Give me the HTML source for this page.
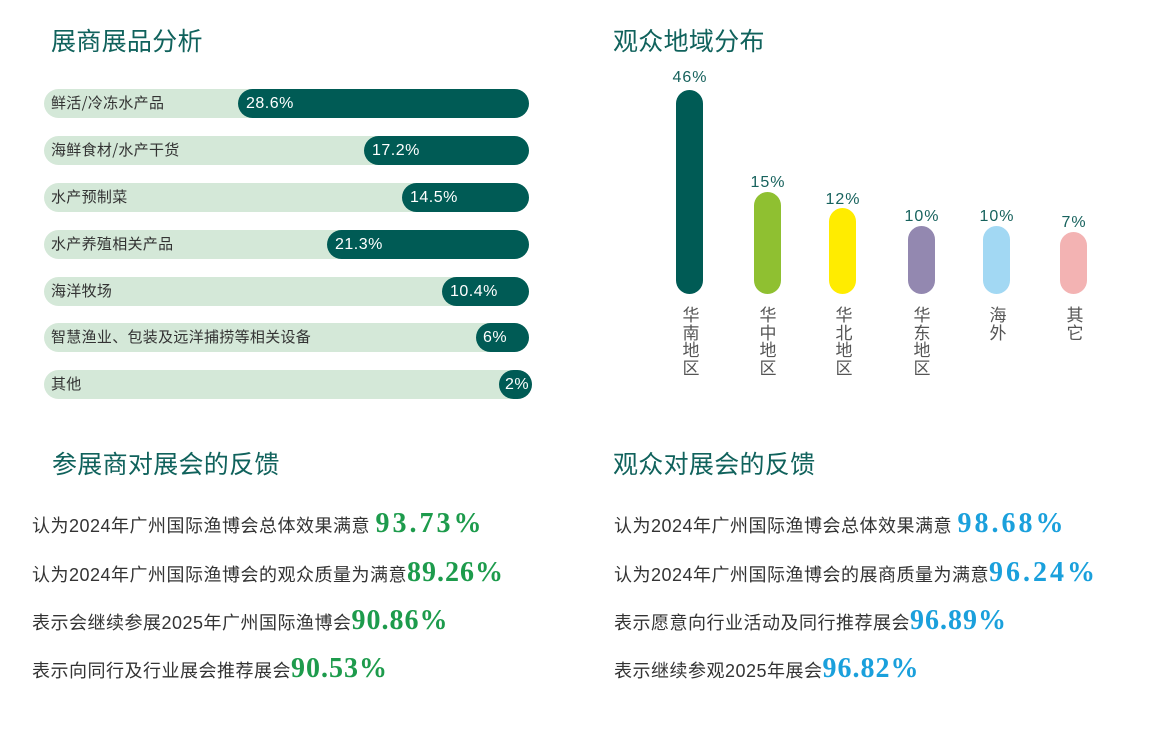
<!DOCTYPE html>
<html><head><meta charset="utf-8">
<style>
html,body{margin:0;padding:0;background:#fff;}
body{width:1161px;height:733px;position:relative;overflow:hidden;font-family:"Liberation Sans","Noto Sans CJK SC",sans-serif;}
.t{position:absolute;font-family:"Noto Sans CJK SC","Liberation Sans",sans-serif;font-size:25px;line-height:25px;color:#10625c;letter-spacing:0.3px;white-space:nowrap;}
.bar{position:absolute;left:44px;width:485px;height:29px;border-radius:14.5px;background:#d4e8d8;}
.bar .lab{position:absolute;left:7px;top:-1px;line-height:29px;font-size:15px;color:#333;font-family:"Noto Sans CJK SC","Liberation Sans",sans-serif;white-space:nowrap;letter-spacing:0.3px;}
.bar .dk{position:absolute;top:0;height:29px;border-radius:14.5px;background:#005b55;color:#fff;font-family:"Liberation Sans",sans-serif;font-size:16px;line-height:29px;letter-spacing:0.5px;box-sizing:border-box;padding-left:8px;white-space:nowrap;}
.vb{position:absolute;width:27px;border-radius:13.5px;}
.vl{position:absolute;width:80px;text-align:center;font-family:"Liberation Sans",sans-serif;font-size:16px;line-height:16px;color:#17625d;letter-spacing:1px;}
.vc{position:absolute;width:40px;text-align:center;font-family:"Noto Sans CJK SC",sans-serif;font-size:17px;line-height:17.5px;color:#555;top:305px;}
.row{position:absolute;font-family:"Liberation Sans","Noto Sans CJK SC",sans-serif;font-size:18px;line-height:20px;color:#333;letter-spacing:0.5px;white-space:nowrap;}
.row .p{font-family:"Liberation Serif",serif;font-weight:bold;font-size:28px;line-height:0;letter-spacing:1px;}
.row .w{letter-spacing:3px;}
.g{color:#1d9b4c;}
.b{color:#1aa0dc;}
</style></head><body>

<div class="t" style="left:51px;top:28px;">展商展品分析</div>
<div class="t" style="left:613px;top:28px;">观众地域分布</div>
<div class="t" style="left:52px;top:451px;">参展商对展会的反馈</div>
<div class="t" style="left:613px;top:451px;">观众对展会的反馈</div>

<!-- left horizontal bars -->
<div class="bar" style="top:89px;"><div class="lab">鲜活/冷冻水产品</div><div class="dk" style="left:194px;width:291px;">28.6%</div></div>
<div class="bar" style="top:136px;"><div class="lab">海鲜食材/水产干货</div><div class="dk" style="left:320px;width:165px;">17.2%</div></div>
<div class="bar" style="top:183px;"><div class="lab">水产预制菜</div><div class="dk" style="left:358px;width:127px;">14.5%</div></div>
<div class="bar" style="top:230px;"><div class="lab">水产养殖相关产品</div><div class="dk" style="left:283px;width:202px;">21.3%</div></div>
<div class="bar" style="top:277px;"><div class="lab">海洋牧场</div><div class="dk" style="left:398px;width:87px;">10.4%</div></div>
<div class="bar" style="top:323px;"><div class="lab">智慧渔业、包装及远洋捕捞等相关设备</div><div class="dk" style="left:432px;width:53px;padding-left:7px;">6%</div></div>
<div class="bar" style="top:370px;"><div class="lab">其他</div><div class="dk" style="left:455px;width:33px;padding-left:6px;">2%</div></div>

<!-- right vertical bars -->
<div class="vb" style="left:676px;top:90px;height:204px;background:#005b55;"></div>
<div class="vb" style="left:754px;top:192px;height:102px;background:#8fc031;"></div>
<div class="vb" style="left:829px;top:208px;height:86px;background:#ffec00;"></div>
<div class="vb" style="left:908px;top:226px;height:68px;background:#9388b0;"></div>
<div class="vb" style="left:983px;top:226px;height:68px;background:#a2d8f3;"></div>
<div class="vb" style="left:1060px;top:232px;height:62px;background:#f3b3b3;"></div>

<div class="vl" style="left:650px;top:70px;">46%</div>
<div class="vl" style="left:728px;top:175px;">15%</div>
<div class="vl" style="left:803px;top:192px;">12%</div>
<div class="vl" style="left:882px;top:209px;">10%</div>
<div class="vl" style="left:957px;top:209px;">10%</div>
<div class="vl" style="left:1034px;top:215px;">7%</div>

<div class="vc" style="left:671px;">华<br>南<br>地<br>区</div>
<div class="vc" style="left:748px;">华<br>中<br>地<br>区</div>
<div class="vc" style="left:824px;">华<br>北<br>地<br>区</div>
<div class="vc" style="left:902px;">华<br>东<br>地<br>区</div>
<div class="vc" style="left:978px;">海<br>外</div>
<div class="vc" style="left:1055px;">其<br>它</div>

<!-- left feedback -->
<div class="row" style="left:32px;top:516px;">认为2024年广州国际渔博会总体效果满意 <span class="p w g">93.73%</span></div>
<div class="row" style="left:32px;top:565px;">认为2024年广州国际渔博会的观众质量为满意<span class="p g">89.26%</span></div>
<div class="row" style="left:32px;top:613px;">表示会继续参展2025年广州国际渔博会<span class="p g">90.86%</span></div>
<div class="row" style="left:32px;top:661px;">表示向同行及行业展会推荐展会<span class="p g">90.53%</span></div>

<!-- right feedback -->
<div class="row" style="left:614px;top:516px;">认为2024年广州国际渔博会总体效果满意 <span class="p w b">98.68%</span></div>
<div class="row" style="left:614px;top:565px;">认为2024年广州国际渔博会的展商质量为满意<span class="p w b">96.24%</span></div>
<div class="row" style="left:614px;top:613px;">表示愿意向行业活动及同行推荐展会<span class="p b">96.89%</span></div>
<div class="row" style="left:614px;top:661px;">表示继续参观2025年展会<span class="p b">96.82%</span></div>

</body></html>
